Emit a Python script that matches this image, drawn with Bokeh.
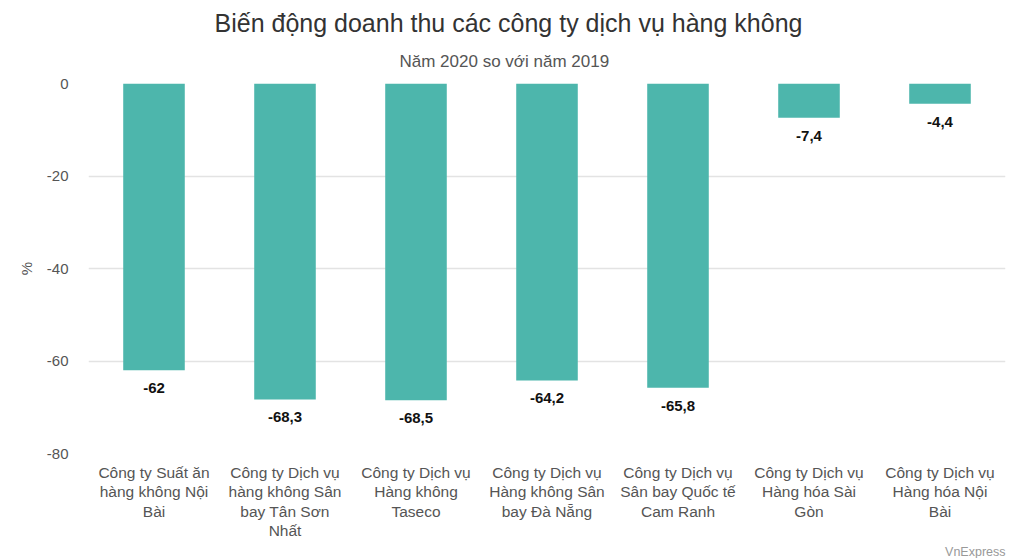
from bokeh.plotting import figure
from bokeh.models import ColumnDataSource, Title, Range1d, FixedTicker
from bokeh.core.properties import value
from bokeh.embed import file_html
from bokeh.resources import INLINE

categories = [
    "Công ty Suất ăn\nhàng không Nội\nBài",
    "Công ty Dịch vụ\nhàng không Sân\nbay Tân Sơn\nNhất",
    "Công ty Dịch vụ\nHàng không\nTaseco",
    "Công ty Dịch vụ\nHàng không Sân\nbay Đà Nẵng",
    "Công ty Dịch vụ\nSân bay Quốc tế\nCam Ranh",
    "Công ty Dịch vụ\nHàng hóa Sài\nGòn",
    "Công ty Dịch vụ\nHàng hóa Nội\nBài",
]
values = [-62, -68.3, -68.5, -64.2, -65.8, -7.4, -4.4]
y_ticks = [0, -20, -40, -60, -80]

labels = [("%g" % v).replace(".", ",") for v in values]
src = ColumnDataSource(dict(k=categories, v=values, lab=labels))

FONT = "Liberation Sans"

p = figure(x_range=categories, y_range=Range1d(-80, 0), width=1011, height=558,
           output_backend="svg", toolbar_location=None, title_location=None,
           min_border_left=88, min_border_right=6, min_border_top=83, min_border_bottom=10)
p.outline_line_color = None
p.background_fill_color = "white"
p.border_fill_color = "white"

sub = Title(text="Năm 2020 so với năm 2019", align="left", text_font=FONT,
            text_font_size="17px", text_font_style="normal", text_color="#555555",
            offset=311, standoff=26)
p.add_layout(sub, "above")
ttl = Title(text="Biến động doanh thu các công ty dịch vụ hàng không", align="left",
            text_font=FONT, text_font_size="25px", text_font_style="normal",
            text_color="#333333", offset=126, standoff=0)
p.add_layout(ttl, "above")

p.vbar(x="k", top="v", bottom=0, width=0.47, source=src, color="#4db6ac", line_color=None)
p.text(x="k", y="v", text="lab", source=src, text_align="center", text_baseline="top",
       y_offset=13, text_font=value(FONT), text_font_size="15px", text_font_style="bold",
       text_color="#111111")

p.xgrid.grid_line_color = None
p.ygrid.grid_line_color = "#e3e3e3"
p.ygrid.grid_line_width = 1.5
p.yaxis.ticker = FixedTicker(ticks=y_ticks)
p.yaxis.major_label_overrides = {t: str(t) for t in y_ticks}
p.yaxis.axis_label = "%"
p.yaxis.axis_label_text_font = FONT
p.yaxis.axis_label_text_font_size = "15px"
p.yaxis.axis_label_text_font_style = "normal"
p.yaxis.axis_label_text_color = "#555555"
p.yaxis.axis_label_standoff = 9

for ax in (p.xaxis, p.yaxis):
    ax.axis_line_color = None
    ax.major_tick_line_color = None
    ax.minor_tick_line_color = None
    ax.major_label_text_font = FONT
    ax.major_label_text_color = "#555555"
p.yaxis.major_label_text_font_size = "15px"
p.xaxis.major_label_text_font_size = "15.5px"
p.xaxis.major_label_text_line_height = 1.15
p.yaxis.major_label_standoff = 14
p.xaxis.major_label_standoff = 4

src_title = Title(text="VnExpress", align="right", text_font=FONT, text_font_size="12.5px",
                  text_font_style="normal", text_color="#999999", standoff=0)
p.add_layout(src_title, "below")

open("out.html", "w").write(file_html(p, INLINE))
